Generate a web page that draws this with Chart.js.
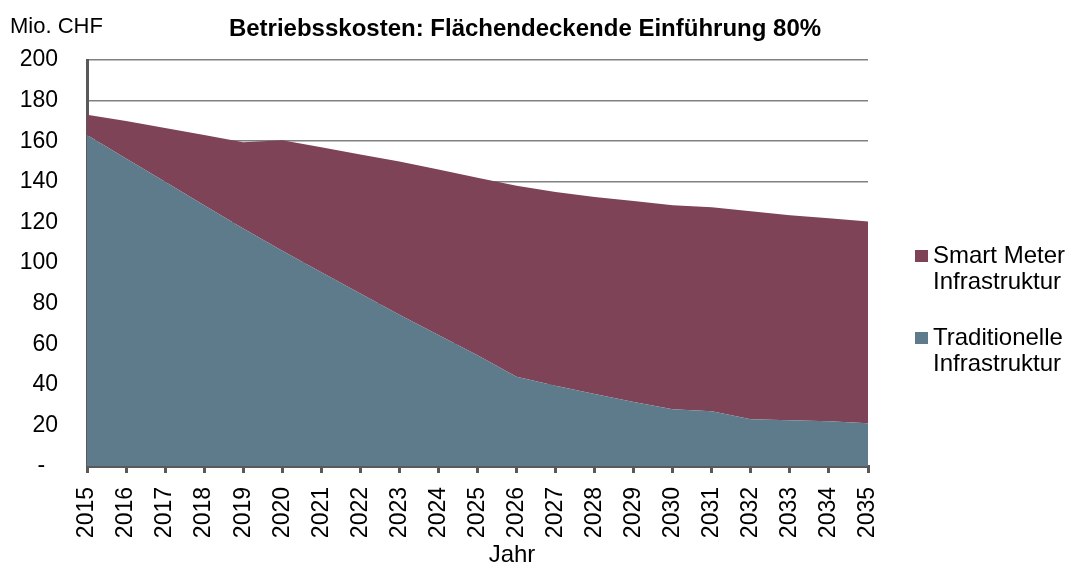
<!DOCTYPE html>
<html>
<head>
<meta charset="utf-8">
<script src="https://cdn.jsdelivr.net/npm/chart.js@4"></script>
<style>
  body { margin: 0; background: #fff; }
</style>
</head>
<body>
<canvas id="kostenChart" width="1070" height="566"></canvas>
<script>
// Betriebskosten in Mio. CHF
const jahre = ['2015', '2016', '2017', '2018', '2019', '2020', '2021', '2022', '2023', '2024', '2025',
  '2026', '2027', '2028', '2029', '2030', '2031', '2032', '2033', '2034', '2035'];
const traditionell = [163, 151.5, 140, 128.5, 117, 106, 95.5, 85, 74.5, 64.5, 54.5,
  44, 39.5, 35.5, 31.5, 28, 27, 23, 22.5, 22, 21];
const smartMeter = [10, 18.5, 26.5, 34.5, 42.5, 54.5, 61.5, 68.5, 75.5, 81.5, 87.5,
  94, 95.5, 97, 99, 100.5, 100.5, 102.5, 101, 100, 99.5];
const yTicks = [0, 20, 40, 60, 80, 100, 120, 140, 160, 180, 200];

const FONT = 'Arial, "Liberation Sans", sans-serif';
const BLUE = '#5e7b8c';
const MAROON = '#7e4356';

// title, unit label, x axis caption and two-line legend
const textPlugin = {
  id: 'texte',
  afterDraw(chart) {
    const ctx = chart.ctx;
    ctx.save();
    ctx.fillStyle = '#000';
    ctx.textBaseline = 'alphabetic';
    ctx.font = 'bold 24px ' + FONT;
    ctx.textAlign = 'center';
    ctx.fillText('Betriebsskosten: Flächendeckende Einführung 80%', 525, 36);
    ctx.font = '24px ' + FONT;
    ctx.fillText('Jahr', 512, 562);
    ctx.font = '22px ' + FONT;
    ctx.textAlign = 'left';
    ctx.fillText('Mio. CHF', 10, 33);

    ctx.font = '24px ' + FONT;
    const items = [
      { color: MAROON, lines: ['Smart Meter', 'Infrastruktur'], y: 250 },
      { color: BLUE, lines: ['Traditionelle', 'Infrastruktur'], y: 332 }
    ];
    items.forEach(it => {
      ctx.fillStyle = it.color;
      ctx.fillRect(915, it.y, 13, 12);
      ctx.fillStyle = '#000';
      it.lines.forEach((t, i) => ctx.fillText(t, 933, it.y + 13 + i * 26));
    });
    ctx.restore();
  }
};

const ctx = document.getElementById('kostenChart').getContext('2d');
new Chart(ctx, {
  type: 'line',
  data: {
    labels: jahre,
    datasets: [{
      label: 'Traditionelle Infrastruktur',
      data: traditionell,
      backgroundColor: BLUE,
      borderWidth: 0,
      pointRadius: 0,
      fill: 'origin',
      tension: 0
    }, {
      label: 'Smart Meter Infrastruktur',
      data: smartMeter,
      backgroundColor: MAROON,
      borderWidth: 0,
      pointRadius: 0,
      fill: '-1',
      tension: 0
    }]
  },
  options: {
    responsive: false,
    animation: false,
    layout: { padding: { left: 0, right: 202, top: 60, bottom: 0 } },
    plugins: {
      legend: { display: false },
      tooltip: { enabled: false }
    },
    scales: {
      x: {
        offset: false,
        afterFit: s => { s.height = 100; },
        grid: { drawOnChartArea: false, drawTicks: true, tickLength: 7, color: '#595959', lineWidth: 3 },
        border: { color: '#595959', width: 3 },
        ticks: { color: '#000', font: { size: 23, family: FONT }, minRotation: 90, maxRotation: 90, padding: 14 }
      },
      y: {
        stacked: true,
        min: 0,
        max: 200,
        afterFit: s => { s.width = 87; },
        afterBuildTicks: axis => { axis.ticks = yTicks.map(v => ({ value: v })); },
        grid: { color: '#808080', lineWidth: 1.5, drawTicks: false },
        border: { color: '#595959', width: 3 },
        ticks: {
          color: '#000',
          font: { size: 23, family: FONT },
          padding: 29,
          // zero is shown as a dash, indented like the accounting format
          callback: v => (v === 0 ? '-  ' : v)
        }
      }
    }
  },
  plugins: [textPlugin]
});
</script>
</body>
</html>
